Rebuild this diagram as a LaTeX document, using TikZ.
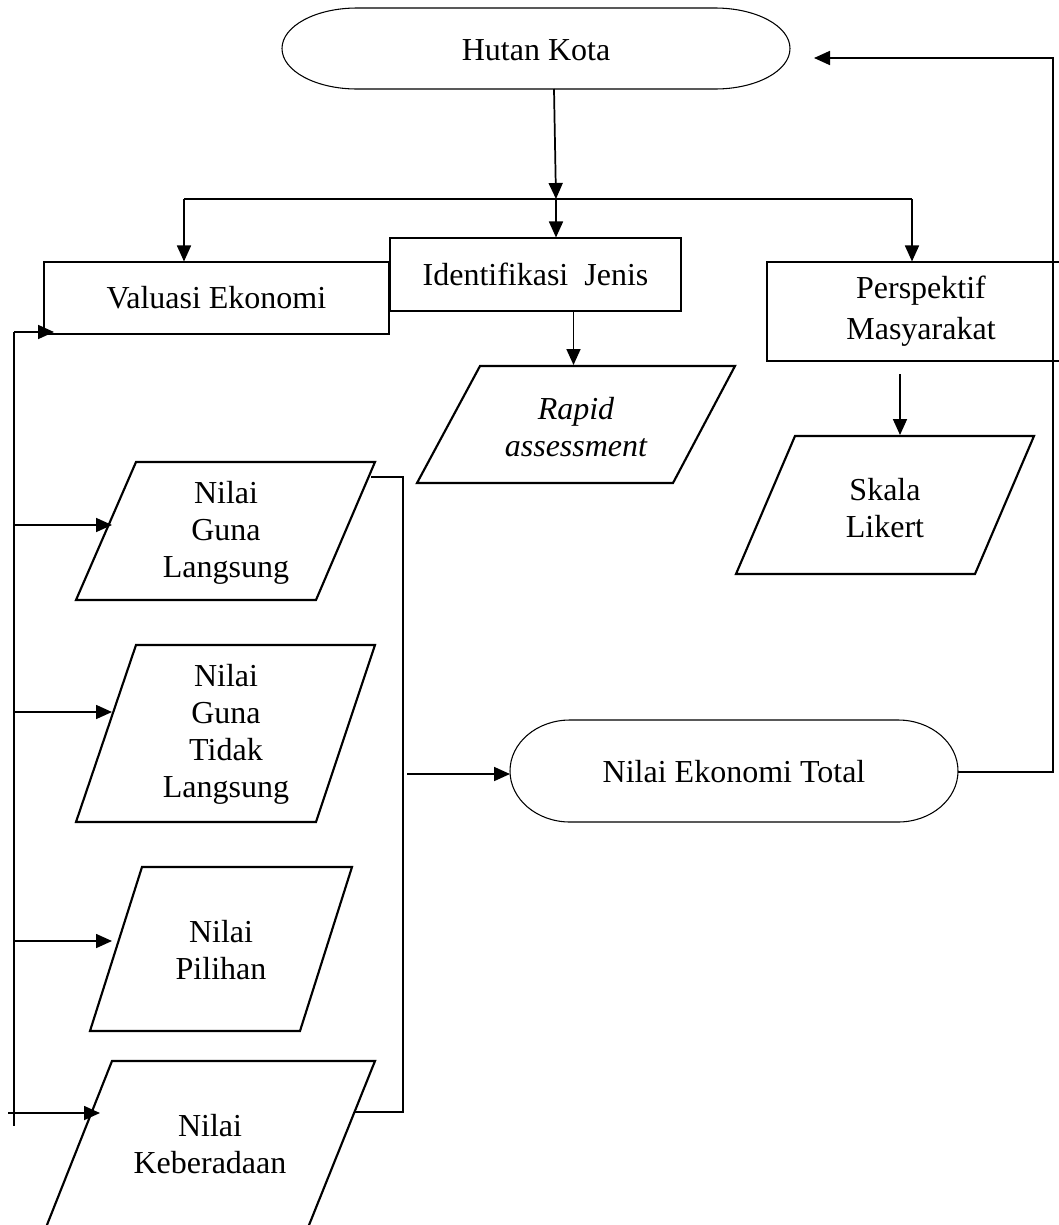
\documentclass[tikz,border=0pt]{standalone}
\usepackage{fontspec}
\setmainfont{Liberation Serif}
\usetikzlibrary{arrows.meta}
\begin{document}
\begin{tikzpicture}[x=0.75pt,y=-0.75pt,
  every node/.style={font=\fontsize{24}{27.75}\selectfont},
  box/.style={draw, line width=0.8pt, inner sep=0pt, align=center},
  para/.style={draw, line width=1.6pt, line join=miter},
  term/.style={draw, line width=0.8pt},
  conn/.style={line width=1.3pt},
  arr/.style={conn, -{Triangle[length=12pt,width=10.5pt]}},
  lbl/.style={align=center, inner sep=0pt}]
\useasboundingbox (0,0) rectangle (1059,1225);
\clip (0,0) rectangle (1059,1225);

% Hutan Kota terminator
\draw[term] (357,8) -- (715,8) arc[start angle=-90,end angle=90,x radius=75,y radius=40.5]
  -- (357,89) arc[start angle=90,end angle=270,x radius=75,y radius=40.5] -- cycle;
\node[lbl] (hk) at (536,50) {Hutan Kota};

% bus from Hutan Kota
\coordinate (hkB) at (554,89);
\coordinate (busC) at (556,199);
\coordinate (busL) at (184,199);
\coordinate (busR) at (912,199);
\draw[arr] (hkB) -- (busC);
\draw[conn] (busL) -- (busR);

% rectangles
\node[box, minimum width=258.75pt, minimum height=54pt] (val) at (216.5,298) {Valuasi Ekonomi};
\node[box, minimum width=218.25pt, minimum height=54.75pt] (idj) at (535.5,274.5) {Identifikasi\ \ Jenis};
\node[box, minimum width=231pt, minimum height=74.25pt] (per) at (921,311.5) {Perspektif\\[3pt]Masyarakat};

\draw[arr] (busL) -- (busL |- val.north);
\draw[arr] (busC) -- (busC |- idj.north);
\draw[arr] (busR) -- (busR |- per.north);

% Rapid assessment
\draw[para] (480,366) -- (735,366) -- (673,483) -- (417,483) -- cycle;
\node[lbl] (rap) at (576,427.5) {\itshape Rapid\\\itshape assessment};
\coordinate (rapT) at (573.5,365);
\draw[arr] (idj.south -| rapT) -- (rapT);

% Skala Likert
\draw[para] (795,436) -- (1034,436) -- (975,574) -- (736,574) -- cycle;
\node[lbl] (sk) at (885,508) {Skala\\Likert};
\coordinate (perB) at (900,374);
\coordinate (skT) at (900,435);
\draw[arr] (perB) -- (skT);

% Nilai parallelograms
\draw[para] (136,462) -- (375,462) -- (316,600) -- (76,600) -- cycle;
\node[lbl] (ngl) at (226,533) {Nilai\\Guna\\Langsung};
\draw[para] (136,645) -- (375,645) -- (316,822) -- (76,822) -- cycle;
\node[lbl] (ngtl) at (226,734.5) {Nilai\\Guna\\Tidak\\Langsung};
\draw[para] (142,867) -- (352,867) -- (300,1031) -- (90,1031) -- cycle;
\node[lbl] (pil) at (221,950.5) {Nilai\\Pilihan};
\draw[para] (112,1061) -- (375,1061) -- (303,1240) -- (41,1240) -- cycle;
\node[lbl] (keb) at (210,1144) {Nilai\\Keberadaan};

% Nilai Ekonomi Total terminator
\draw[term] (570,720) -- (898,720) arc[start angle=-90,end angle=90,x radius=60,y radius=51]
  -- (570,822) arc[start angle=90,end angle=270,x radius=60,y radius=51] -- cycle;
\node[lbl] (net) at (734,772) {Nilai Ekonomi Total};

% feedback to Hutan Kota
\coordinate (netR) at (958,772);
\coordinate (fbC) at (1053,58);
\coordinate (hkR) at (814,58);
\draw[arr] (netR) -- (netR -| fbC) -- (fbC) -- (hkR);

% left bus
\coordinate (lbT) at (14,332);
\coordinate (lbB) at (14,1126);
\draw[conn] (lbT) -- (lbB);
\coordinate (valA) at (54,332);
\draw[arr] (lbT) -- (valA);
\coordinate (a1) at (112,525);
\coordinate (a2) at (112,712);
\coordinate (a3) at (112,941);
\coordinate (a4) at (100,1113);
\coordinate (a4s) at (8,1113);
\draw[arr] (lbT |- a1) -- (a1);
\draw[arr] (lbT |- a2) -- (a2);
\draw[arr] (lbT |- a3) -- (a3);
\draw[arr] (a4s) -- (a4);

% right collector
\coordinate (c1) at (371,477);
\coordinate (c2) at (403,477);
\coordinate (c3) at (403,1112);
\coordinate (c4) at (355,1112);
\draw[conn] (c1) -- (c2) -- (c3) -- (c4);
\coordinate (c5) at (407,774);
\coordinate (netL) at (510,774);
\draw[arr] (c5) -- (netL);
\end{tikzpicture}
\end{document}
